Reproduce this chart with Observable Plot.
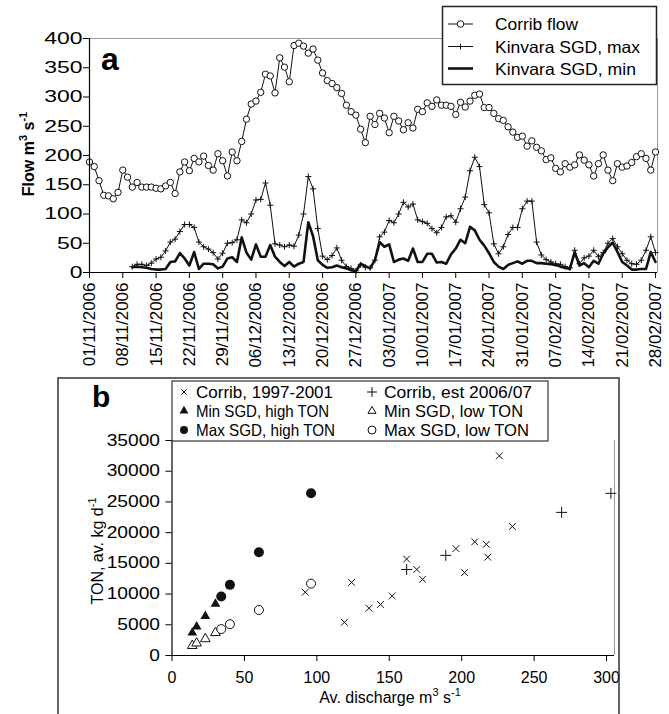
<!DOCTYPE html>
<html><head><meta charset="utf-8">
<script src="https://cdn.jsdelivr.net/npm/d3@7"></script>
<script src="https://cdn.jsdelivr.net/npm/@observablehq/plot@0.6"></script>
<style>
body{margin:0;background:#fff;font-family:"Liberation Sans",Arial,sans-serif;}
#wrap{width:669px;}
#wrap svg{display:block;overflow:visible;}
</style></head><body><div id="wrap"></div>
<script>
// ---------- Panel a data ----------
const startDate = "01/11/2006";
const dateTicks = ["01/11/2006","08/11/2006","15/11/2006","22/11/2006","29/11/2006","06/12/2006","13/12/2006","20/12/2006","27/12/2006","03/01/2007","10/01/2007","17/01/2007","24/01/2007","31/01/2007","07/02/2007","14/02/2007","21/02/2007","28/02/2007"];
const flowTicks = [0,50,100,150,200,250,300,350,400];
// Corrib flow, daily from 01/11/2006
const corribFlow = [189,181,157,132,131,126,137,175,163,146,154,146,146,146,144,143,148,154,135,172,
  189,174,195,189,199,183,175,203,191,165,206,191,224,262,288,293,308,339,336,307,
  367,351,326,388,392,387,375,382,363,341,328,323,316,306,286,275,269,245,222,267,
  253,272,264,239,267,259,244,256,247,279,275,290,284,295,286,286,284,270,291,283,
  293,303,305,282,282,272,263,260,249,240,231,233,216,225,214,208,193,196,178,172,
  186,180,184,201,192,184,165,186,201,175,157,186,180,182,188,198,203,195,175,206];
// Kinvara SGD, daily from 10/11/2006 (day offset 9)
const sgdStartOffset = 9;
const sgdMax = [10,14,14,12,16,23,26,37,52,57,70,82,82,77,52,44,40,34,23,33,
  50,51,56,90,85,100,124,125,153,115,49,47,44,47,45,64,100,164,143,75,
  28,22,29,42,21,10,7,3,13,9,8,21,61,69,89,85,100,120,112,117,
  90,87,84,75,68,77,95,97,86,109,129,174,197,181,116,102,49,32,44,65,
  77,77,109,122,122,52,30,22,18,15,14,10,8,38,15,25,28,38,27,34,
  50,58,44,32,21,15,14,21,38,61,34];
const sgdMin = [9,10,9,8,6,5,5,6,18,19,33,24,12,35,6,15,15,14,7,10,
  24,26,18,60,34,22,48,27,27,47,27,18,11,18,10,15,18,86,62,21,
  13,8,9,12,9,7,4,2,15,11,7,21,52,44,48,18,22,24,20,41,
  18,18,32,32,17,18,15,31,41,56,50,78,72,56,46,33,18,10,6,13,
  16,19,15,20,20,16,16,15,14,13,10,8,6,35,12,16,9,20,15,32,
  43,51,35,18,12,5,5,6,6,35,18];

// ---------- Panel b data ----------
const dischargeTicks = [0,50,100,150,200,250,300];
const tonTicks = [0,5000,10000,15000,20000,25000,30000,35000];
const corrib9701Q   = [226,235,209,217,196,218,162,169,173,202,124,152,144,136,119,92];
const corrib9701TON = [32500,21000,18500,18100,17400,16000,15700,14000,12400,13500,11900,9700,8300,7700,5400,10300];
const corrib0607Q   = [303,269,189,162];
const corrib0607TON = [26400,23300,16300,14000];
const minHighQ = [14,17,23,30];
const minHighTON = [3700,4700,6400,8400];
const maxHighQ = [34,40,60,96];
const maxHighTON = [9600,11500,16800,26400];
const minLowQ = [14,17,23,30];
const minLowTON = [1600,2000,2700,3700];
const maxLowQ = [34,40,60,96];
const maxLowTON = [4300,5100,7400,11700];

// ---------- helpers ----------
const FONT = "Liberation Sans, Arial, sans-serif";
const thinPlus = {draw(c, size){const r=Math.sqrt(size/Math.PI); c.moveTo(-r,0);c.lineTo(r,0);c.moveTo(0,-r);c.lineTo(0,r);}};
const thinTimes = {draw(c, size){const r=Math.sqrt(size/Math.PI)*0.75; c.moveTo(-r,-r);c.lineTo(r,r);c.moveTo(-r,r);c.lineTo(r,-r);}};
const parse = d3.utcParse("%d/%m/%Y");
const t0 = parse(startDate);
const tickDates = dateTicks.map(parse);
const xEnd = d3.utcHour.offset(tickDates[tickDates.length-1], 10);
const corribData = corribFlow.map((v,i)=>({date:d3.utcDay.offset(t0,i), v}));
const maxData = sgdMax.map((v,i)=>({date:d3.utcDay.offset(t0,i+sgdStartOffset), v}));
const minData = sgdMin.map((v,i)=>({date:d3.utcDay.offset(t0,i+sgdStartOffset), v}));
const pts = (Q,T)=>Q.map((q,i)=>({q, t:T[i]}));

// ---------- Panel a ----------
const plotA = Plot.plot({
  width:669, height:375, marginLeft:89, marginRight:12, marginTop:38, marginBottom:103,
  style:{fontFamily:FONT, background:"white", color:"black"},
  x:{type:"utc", domain:[t0, xEnd]},
  y:{domain:[0,400]},
  marks:[
    Plot.ruleY([400], {stroke:"#999", strokeWidth:1}),
    Plot.ruleX([xEnd], {stroke:"#999", strokeWidth:1}),
    Plot.line(minData, {x:"date", y:"v", stroke:"#111", strokeWidth:2.6}),
    Plot.line(maxData, {x:"date", y:"v", stroke:"#111", strokeWidth:1}),
    Plot.dot(maxData, {x:"date", y:"v", symbol:thinPlus, r:3, stroke:"#111", fill:"none", strokeWidth:1}),
    Plot.line(corribData, {x:"date", y:"v", stroke:"#111", strokeWidth:1}),
    Plot.dot(corribData, {x:"date", y:"v", r:3.2, fill:"white", stroke:"#111", strokeWidth:1}),
    Plot.ruleX([t0], {stroke:"black", strokeWidth:1.2}),
    Plot.ruleY([0], {stroke:"black", strokeWidth:1.2}),
    Plot.axisY({ticks:flowTicks, tickSize:6, tickPadding:1, fontSize:17, label:null}),
    Plot.axisX({ticks:tickDates, tickFormat:(d,i)=>dateTicks[i], tickRotate:-90, tickSize:6, tickPadding:4, fontSize:17, label:null})
  ]
});

// ---------- Panel b ----------
const plotB = Plot.plot({
  width:669, height:339, marginLeft:171.5, marginRight:55, marginTop:65, marginBottom:59,
  style:{fontFamily:FONT, background:"white", color:"black"},
  x:{domain:[0,305.5]},
  y:{domain:[0,35000]},
  marks:[
    Plot.ruleX([305.5], {stroke:"#999"}),
    Plot.dot(pts(corrib9701Q,corrib9701TON), {x:"q", y:"t", symbol:thinTimes, r:4.5, stroke:"#111", fill:"none", strokeWidth:1}),
    Plot.dot(pts(corrib0607Q,corrib0607TON), {x:"q", y:"t", symbol:thinPlus, r:5.5, stroke:"#111", fill:"none", strokeWidth:1}),
    Plot.dot(pts(minLowQ,minLowTON), {x:"q", y:"t", symbol:"triangle", r:3.6, stroke:"#111", fill:"white", strokeWidth:1}),
    Plot.dot(pts(maxLowQ,maxLowTON), {x:"q", y:"t", r:4.5, stroke:"#111", fill:"white", strokeWidth:1}),
    Plot.dot(pts(minHighQ,minHighTON), {x:"q", y:"t", symbol:"triangle", r:3.6, fill:"#111", stroke:"none"}),
    Plot.dot(pts(maxHighQ,maxHighTON), {x:"q", y:"t", r:5, fill:"#111", stroke:"none"}),
    Plot.ruleX([0], {stroke:"black", strokeWidth:1.2}),
    Plot.ruleY([0], {stroke:"black", strokeWidth:1.2}),
    Plot.axisY({ticks:tonTicks, tickFormat:d=>String(d), tickSize:6, tickPadding:6, fontSize:16, label:null}),
    Plot.axisX({ticks:dischargeTicks, tickFormat:d=>String(d), tickSize:6, tickPadding:10, fontSize:16, label:null})
  ]
});

const wrap = document.getElementById("wrap");
wrap.appendChild(plotA);
wrap.appendChild(plotB);

// widen the y tick labels like the reference's wide numerals
function widen(svg, factor){
  svg.querySelectorAll("g").forEach(g=>{
    const al = g.getAttribute("aria-label") || "";
    if (al.indexOf("y-axis") === 0 && al.indexOf("label") > 0) {
      g.querySelectorAll("text").forEach(t=>{
        const tr = t.getAttribute("transform");
        if (tr) { t.setAttribute("transform", tr + ` scale(${factor},1)`); }
        else {
          const x = +t.getAttribute("x") || 0, y = +t.getAttribute("y") || 0;
          t.setAttribute("x", 0); t.setAttribute("y", 0);
          t.setAttribute("transform", `translate(${x},${y}) scale(${factor},1)`);
        }
      });
    }
  });
}
widen(plotA, 1.35);
widen(plotB, 1.2);
function fit(sel, w){ sel.attr("textLength", w).attr("lengthAdjust","spacingAndGlyphs"); }

// ---------- Panel a annotations ----------
const A = d3.select(plotA);
A.append("text").attr("x",101).attr("y",70).attr("text-anchor","start").attr("font-size",32).attr("font-weight","bold").attr("font-family",FONT).text("a");
const yl = A.append("text").attr("transform","translate(34,154) rotate(-90)").attr("text-anchor","middle")
  .attr("font-size",16).attr("font-weight","bold").attr("font-family",FONT);
yl.append("tspan").text("Flow m");
yl.append("tspan").attr("dy",-7).attr("font-size",11).text("3");
yl.append("tspan").attr("dy",7).text(" s");
yl.append("tspan").attr("dy",-7).attr("font-size",11).text("-1");
const LA = A.append("g").attr("font-family",FONT).attr("font-size",16.5).attr("text-anchor","start");
LA.append("rect").attr("x",442.5).attr("y",6.5).attr("width",214).attr("height",78).attr("fill","white").attr("stroke","#222").attr("stroke-width",1.5);
const rowsA = [24, 46.5, 68.5];
const labelsA = ["Corrib flow","Kinvara SGD, max","Kinvara SGD, min"];
const widthsA = [83, 145, 141];
rowsA.forEach((y,i)=>{
  LA.append("line").attr("x1",448).attr("x2",473).attr("y1",y).attr("y2",y).attr("stroke","#111").attr("stroke-width", i===2?2.6:1);
  if(i===0) LA.append("circle").attr("cx",460.5).attr("cy",y).attr("r",3.3).attr("fill","white").attr("stroke","#111");
  if(i===1) LA.append("path").attr("transform",`translate(460.5,${y})`).attr("d",d3.symbol(thinPlus, Math.PI*9)()).attr("stroke","#111").attr("fill","none");
  fit(LA.append("text").attr("x",495).attr("y",y+6).text(labelsA[i]), widthsA[i]);
});

// ---------- Panel b annotations ----------
const B = d3.select(plotB);
B.append("rect").attr("x",58).attr("y",3).attr("width",561).attr("height",400).attr("fill","none").attr("stroke","#333").attr("stroke-width",1.5);
B.append("text").attr("x",92).attr("y",32).attr("text-anchor","start").attr("font-size",30).attr("font-weight","bold").attr("font-family",FONT).text("b");
const ylb = B.append("text").attr("transform","translate(103,176) rotate(-90)").attr("text-anchor","middle").attr("font-size",16).attr("font-family",FONT);
ylb.append("tspan").text("TON, av. kg d");
ylb.append("tspan").attr("dy",-7).attr("font-size",11).text("-1");
const xlb = B.append("text").attr("x",390).attr("y",328).attr("text-anchor","middle").attr("font-size",16).attr("font-family",FONT);
xlb.append("tspan").text("Av. discharge m");
xlb.append("tspan").attr("dy",-7).attr("font-size",11).text("3");
xlb.append("tspan").attr("dy",7).text(" s");
xlb.append("tspan").attr("dy",-7).attr("font-size",11).text("-1");
const LB = B.append("g").attr("font-family",FONT).attr("font-size",16.5).attr("text-anchor","start");
LB.append("rect").attr("x",172).attr("y",6).attr("width",376).attr("height",60).attr("fill","white").attr("stroke","#333").attr("stroke-width",1.2);
const legB = [
  {x:184, y:17, label:"Corrib, 1997-2001", w:137, sym:thinTimes, size:Math.PI*12, fill:"none", stroke:"#111"},
  {x:372, y:17, label:"Corrib, est 2006/07", w:148, sym:thinPlus, size:Math.PI*25, fill:"none", stroke:"#111"},
  {x:184, y:36, label:"Min SGD, high TON", w:133, sym:d3.symbolTriangle, size:Math.PI*11, fill:"#111", stroke:"none"},
  {x:372, y:36, label:"Min SGD, low TON", w:139, sym:d3.symbolTriangle, size:Math.PI*9, fill:"white", stroke:"#111"},
  {x:184, y:55, label:"Max SGD, high TON", w:139, sym:d3.symbolCircle, size:Math.PI*16, fill:"#111", stroke:"none"},
  {x:372, y:55, label:"Max SGD, low TON", w:145, sym:d3.symbolCircle, size:Math.PI*16, fill:"white", stroke:"#111"}
];
legB.forEach(e=>{
  LB.append("path").attr("transform",`translate(${e.x},${e.y})`).attr("d",d3.symbol(e.sym,e.size)()).attr("fill",e.fill).attr("stroke",e.stroke);
  fit(LB.append("text").attr("x",e.x+12).attr("y",e.y+6).text(e.label), e.w);
});
</script></body></html>
